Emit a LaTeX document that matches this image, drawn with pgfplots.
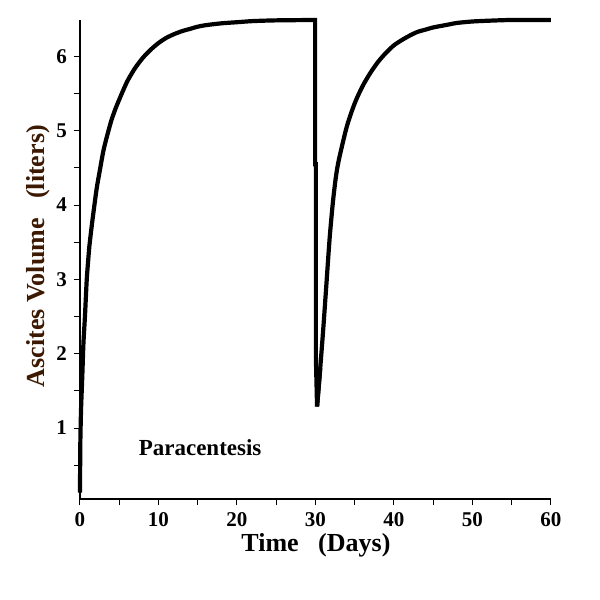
\documentclass[border=0pt]{standalone}
\usepackage{fontspec}
\setmainfont{Liberation Serif}
\usepackage{pgfplots}
\pgfplotsset{compat=1.18}
\definecolor{ylab}{RGB}{60,25,0}
\begin{document}
\begin{tikzpicture}
\path[use as bounding box, fill=white] (-40pt,-50.5pt) rectangle (260pt,249.5pt);
\begin{axis}[
 at={(0,0)}, anchor=south west, scale only axis,
 width=235.5pt, height=239.5pt,
 xmin=0, xmax=60, ymin=0.045, ymax=6.49,
 axis x line*=bottom, axis y line*=left,
 axis line style={line width=0.7pt, -},
 xtick={0,10,...,60}, minor xtick={5,15,...,55},
 ytick={1,...,6}, minor ytick={0.5,1.5,...,5.5},
 tick align=outside, major tick length=3pt, minor tick length=3pt,
 tick style={line width=0.5pt, black},
 ticklabel style={font=\fontsize{10.5}{12}\selectfont\bfseries},
 /pgf/number format/assume math mode=true,
 xlabel={Time~~~(Days)}, ylabel={Ascites Volume~~~(liters)},
 label style={font=\fontsize{13}{15}\selectfont\bfseries},
 xlabel style={at={(axis description cs:0.501,-0.096)}, anchor=center},
 ylabel style={at={(axis description cs:-0.0892,0.507)}, anchor=center, color=ylab},
 clip=false,
]
\addplot[line width=2.1pt, black, smooth, tension=0.45] coordinates {
(0,0.13) (0.02,0.5) (0.05,0.85) (0.13,1.24) (0.22,1.5) (0.3,1.72) (0.42,2.1)
(0.52,2.3) (0.64,2.52) (0.85,2.98) (1.0,3.2) (1.19,3.44) (1.45,3.68) (1.7,3.89)
(2.12,4.22) (2.5,4.45) (3.0,4.74) (3.5,4.95) (4.0,5.14) (4.5,5.29)
(5.0,5.42) (6.0,5.66) (7.0,5.84) (8.0,5.98) (9.0,6.09)
(10,6.18) (11,6.25) (12,6.30) (13,6.34) (14,6.37) (15,6.40) (16,6.42)
(18,6.445) (20,6.46) (22,6.475) (25,6.485) (29.95,6.49)
};
\addplot[line width=2.1pt, black] coordinates {
(29.9,6.49) (29.95,6.49) (29.95,4.55) (30.05,4.55) (30.05,1.95) (30.2,1.29) (30.6,1.8)
};
\addplot[line width=2.1pt, black, smooth, tension=0.45] coordinates {
(30.2,1.29) (30.6,1.8) (31.0,2.35) (31.4,2.95) (31.8,3.55) (32.2,4.02) (32.6,4.38)
(33,4.62) (34,5.06) (35,5.37) (36,5.60) (37,5.78) (38,5.93) (39,6.05) (40,6.15)
(41,6.22) (42,6.28) (43,6.33) (44,6.36) (45,6.39) (46,6.41) (47,6.43) (48,6.45)
(50,6.47) (52,6.48) (55,6.49) (60,6.49)
};
\node[font=\fontsize{11.5}{13}\selectfont\bfseries] at (axis cs:15.3,0.73) {Paracentesis};
\end{axis}
\end{tikzpicture}
\end{document}
